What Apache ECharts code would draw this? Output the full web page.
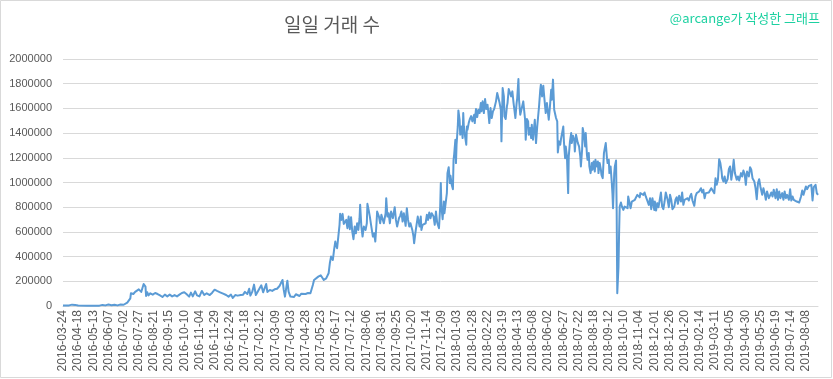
<!DOCTYPE html>
<html>
<head>
<meta charset="utf-8">
<script src="https://cdn.jsdelivr.net/npm/echarts@6/dist/echarts.min.js"></script>
<style>
html,body{margin:0;padding:0;background:#fff;}
#chart{width:833px;height:379px;}
</style>
</head>
<body>
<div id="chart"></div>
<script>
// ---- data ----
const titleText = '일일 거래 수';
const creditText = '@arcange가 작성한 그래프';
const startDate = '2016-03-24';
const endDate = '2019-08-28';
const missingDates = ['2018-08-04','2018-08-05','2018-09-26','2018-09-27','2018-09-28','2018-11-20','2018-11-21'];
const yTicks = [0,200000,400000,600000,800000,1000000,1200000,1400000,1600000,1800000,2000000];

// [day index on the category axis, daily transactions]
const tx2016 = [
[0,4000],[10,5000],[15,11000],[20,9000],[25,4000],[40,3000],[60,3000],[65,9000],[70,5000],[75,12000],
[80,6000],[85,10000],[90,5000],[95,12000],[100,10000],[103,18000],[106,28000],[109,35000],[111,62000],
[112,103000],[114,108000],[116,97000],[119,114000],[122,119000],[125,135000],[127,140000],[129,114000],
[131,130000],[133,178000],[134,192000],[136,157000],[137,81000],[139,111000],[141,86000],[144,103000],
[148,92000],[152,105000],[156,97000],[160,86000],[164,73000],[168,92000],[172,78000],[176,92000],
[180,78000],[184,89000],[188,78000],[192,92000],[196,105000],[200,111000],[204,95000],[208,76000],
[211,108000],[214,78000],[218,119000],[221,86000],[225,78000],[229,122000],[233,89000],[237,103000],
[242,89000],[246,108000],[250,132000],[254,122000],[259,111000],[264,100000],[269,89000],[273,76000],
[277,92000],[280,65000],[284,89000],[288,84000]
];
const tx2017 = [
[293,89000],[297,92000],[300,114000],[302,130000],[304,97000],[307,140000],[309,84000],[312,114000],
[315,173000],[318,89000],[321,116000],[324,130000],[327,168000],[330,111000],[333,124000],[335,178000],
[337,114000],[341,130000],[345,122000],[349,135000],[353,140000],[357,162000],[359,178000],[362,211000],
[364,130000],[366,76000],[368,143000],[370,205000],[372,116000],[375,76000],[378,92000],[381,73000],
[384,95000],[387,103000],[390,81000],[393,100000],[396,86000],[400,97000],[404,105000],[408,103000],
[410,119000],[412,170000],[414,211000],[417,216000],[421,238000],[425,249000],[428,251000],[430,211000],
[434,224000],[436,211000],[438,265000],[440,346000],[442,400000],[445,373000],[447,454000],[449,522000],
[450,495000],[452,468000],[454,562000],[456,657000],[457,746000],[459,697000],[461,746000],[463,665000],
[465,649000],[467,697000],[469,630000],[471,724000],[473,622000],[475,719000],[477,603000],[479,541000],
[481,643000],[483,589000],[485,670000],[487,616000],[489,711000],[490,819000],[492,643000],[494,562000],
[496,643000],[499,616000],[501,670000],[502,827000],[504,778000],[506,724000],[508,657000],[511,562000],
[513,589000],[515,522000],[517,670000],[518,765000],[521,724000],[523,670000],[525,738000],[527,724000],
[529,670000],[532,751000],[533,873000],[535,724000],[537,751000],[539,670000],[541,765000],[544,711000],
[546,697000],[547,800000],[549,697000],[551,643000],[554,711000],[556,730000],[558,765000],[560,684000],
[562,751000],[565,649000],[567,792000],[569,697000],[571,643000],[573,670000],[576,616000],[578,562000],
[579,508000],[581,589000],[583,657000],[585,724000],[588,643000],[590,724000],[591,616000],[593,657000],
[595,643000],[598,670000],[600,738000],[602,697000],[604,757000],[606,711000],[608,751000],[611,724000],
[613,657000],[615,765000],[617,676000],[620,630000],[622,805000],[623,995000],[624,805000],[626,703000],
[628,846000],[629,751000],[631,833000],[633,914000],[634,1076000],[636,1124000],[638,995000],[639,1054000],
[641,981000],[643,946000],[644,1184000],[645,1224000],[647,1346000],[648,1157000],[649,1306000]
];
const tx2018 = [
[651,1454000],[652,1584000],[654,1508000],[655,1387000],[657,1454000],[659,1360000],[660,1562000],
[661,1454000],[663,1373000],[665,1306000],[666,1454000],[667,1427000],[669,1481000],[671,1515000],
[673,1538000],[675,1495000],[678,1549000],[679,1481000],[681,1595000],[683,1530000],[685,1589000],
[687,1562000],[689,1643000],[690,1576000],[692,1657000],[694,1562000],[696,1676000],[698,1595000],
[700,1630000],[701,1589000],[703,1481000],[705,1603000],[707,1522000],[709,1576000],[711,1595000],
[712,1616000],[714,1657000],[716,1724000],[718,1730000],[720,1643000],[722,1589000],[723,1333000],
[725,1765000],[727,1697000],[728,1535000],[730,1514000],[732,1616000],[733,1643000],[735,1757000],
[737,1765000],[739,1697000],[741,1738000],[743,1643000],[744,1603000],[746,1522000],[748,1643000],
[749,1684000],[751,1838000],[752,1670000],[754,1549000],[756,1549000],[757,1541000],[759,1657000],
[761,1643000],[762,1508000],[763,1346000],[765,1514000],[767,1495000],[768,1387000],[770,1441000],
[772,1360000],[773,1468000],[775,1346000],[777,1454000],[778,1508000],[780,1319000],[782,1454000],
[783,1508000],[785,1616000],[787,1751000],[788,1792000],[790,1697000],[792,1784000],[793,1724000],
[795,1616000],[796,1562000],[798,1643000],[800,1630000],[801,1508000],[803,1616000],[805,1751000],
[806,1670000],[808,1833000],[810,1589000],[811,1576000],[813,1522000],[815,1495000],[816,1243000],
[818,1333000],[820,1306000],[821,1346000],[823,1400000],[825,1454000],[826,1333000],[828,1197000],
[829,1292000],[831,1211000],[833,914000],[834,1211000],[836,1333000],[838,1400000],[839,1319000],
[841,1379000],[843,1346000],[844,1252000],[846,1387000],[848,1400000],[849,1319000],[851,1292000],
[853,1211000],[854,1130000],[856,1265000],[857,1441000],[859,1387000],[861,1292000],[862,1400000],
[864,1224000],[865,1184000],[867,1238000],[868,1130000],[870,1076000],[872,1157000],[873,1103000],
[875,1170000],[877,1089000],[878,1184000],[880,1130000],[882,1170000],[883,1076000],[885,1157000],
[887,1103000],[888,1062000],[890,1035000],[892,1238000],[893,1265000],[895,1319000],[897,1197000],
[898,1157000],[900,1184000],[901,1076000],[903,1130000],[905,995000],[906,914000],[907,792000],
[909,1076000],[910,1130000],[912,1178000],[913,778000],[914,103000],[915,89000],[916,319000],
[917,589000],[918,805000],[920,838000],[922,800000],[924,778000],[926,805000],[928,819000],[931,792000],
[932,886000],[934,881000],[936,792000],[938,846000],[940,833000],[943,860000],[945,873000],[947,900000],
[949,905000],[951,880000]
];
const tx2019 = [
[952,914000],[954,927000],[957,900000],[959,919000],[961,887000],[964,846000],[966,819000],[968,873000],
[970,784000],[972,873000],[975,778000],[976,846000],[978,773000],[980,833000],[982,800000],[984,860000],
[986,919000],[988,805000],[990,784000],[992,846000],[994,919000],[997,860000],[999,800000],[1001,900000],
[1003,860000],[1005,784000],[1008,805000],[1010,860000],[1012,881000],[1014,827000],[1016,892000],
[1019,846000],[1021,919000],[1023,819000],[1025,860000],[1027,846000],[1030,873000],[1032,854000],
[1034,887000],[1036,908000],[1038,854000],[1041,811000],[1043,887000],[1045,914000],[1047,900000],
[1049,927000],[1052,954000],[1054,919000],[1056,941000],[1058,873000],[1060,914000],[1063,900000],
[1065,919000],[1067,914000],[1069,954000],[1071,968000],[1074,914000],[1076,1035000],[1078,981000],
[1080,1022000],[1082,1189000],[1084,1157000],[1086,1089000],[1087,1035000],[1089,1008000],[1091,1049000],
[1093,995000],[1096,1027000],[1098,1108000],[1100,1130000],[1102,1022000],[1104,1089000],[1106,1184000],
[1108,1076000],[1111,1022000],[1113,1049000],[1115,1016000],[1118,1076000],[1120,1049000],[1122,1097000],
[1124,1070000],[1126,981000],[1128,1089000],[1131,1049000],[1133,1124000],[1135,1103000],[1137,1035000],
[1140,1008000],[1142,954000],[1144,865000],[1146,995000],[1148,1027000],[1150,968000],[1153,900000],
[1155,954000],[1157,914000],[1159,860000],[1161,927000],[1164,873000],[1166,860000],[1168,919000],
[1170,887000],[1172,941000],[1175,873000],[1177,946000],[1179,860000],[1181,927000],[1183,873000],
[1186,914000],[1188,860000],[1190,927000],[1192,873000],[1194,900000],[1197,860000],[1199,946000],
[1201,854000],[1203,887000],[1205,860000],[1208,873000],[1210,846000],[1212,860000],[1214,838000],
[1217,887000],[1219,935000],[1221,900000],[1223,914000],[1225,968000],[1227,946000],[1230,973000],
[1232,962000],[1234,981000],[1236,854000],[1238,962000],[1241,981000],[1243,914000],[1245,900000]
];

// ---- build category list (daily, with the gaps present in the source) ----
function buildDates(from, to, skip) {
  const out = [];
  const d = new Date(from + 'T00:00:00Z');
  const end = new Date(to + 'T00:00:00Z');
  while (d <= end) {
    const s = d.toISOString().slice(0, 10);
    if (skip.indexOf(s) < 0) out.push(s);
    d.setUTCDate(d.getUTCDate() + 1);
  }
  return out;
}
const categories = buildDates(startDate, endDate, missingDates);
const seriesData = tx2016.concat(tx2017, tx2018, tx2019);

const chart = echarts.init(document.getElementById('chart'), null, {renderer: 'canvas'});
chart.setOption({
  animation: false,
  backgroundColor: '#ffffff',
  grid: {left: 63, right: 15, top: 59, bottom: 73, containLabel: false},
  xAxis: {
    type: 'category',
    data: categories,
    boundaryGap: false,
    axisLine: {show: true, lineStyle: {color: '#d9d9d9', width: 1}},
    axisTick: {show: false},
    splitLine: {show: false},
    axisLabel: {
      interval: 24,
      rotate: 90,
      margin: 4,
      color: '#595959',
      fontSize: 12,
      fontFamily: 'Liberation Sans, Arial, sans-serif',
      hideOverlap: false
    }
  },
  yAxis: {
    type: 'value',
    min: yTicks[0],
    max: yTicks[yTicks.length - 1],
    interval: yTicks[1] - yTicks[0],
    axisLine: {show: false},
    axisTick: {show: false},
    splitLine: {lineStyle: {color: '#d9d9d9', width: 1}},
    axisLabel: {
      margin: 11,
      color: '#595959',
      fontSize: 11,
      fontFamily: 'Liberation Sans, Arial, sans-serif',
      formatter: v => String(v)
    }
  },
  series: [{
    type: 'line',
    data: seriesData,
    showSymbol: false,
    symbol: 'none',
    smooth: false,
    lineStyle: {color: '#5b9bd5', width: 2, join: 'round'},
    itemStyle: {color: '#5b9bd5'}
  }],
  graphic: [
    {type: 'rect', shape: {x: 0.5, y: 0.5, width: 831, height: 377}, style: {fill: 'none', stroke: '#d9d9d9', lineWidth: 1}, silent: true},
    {type: 'text', x: 332, y: 25, style: {text: titleText, fill: '#595959', font: '19px "Noto Sans CJK KR", sans-serif', textAlign: 'center', textVerticalAlign: 'middle', align: 'center', verticalAlign: 'middle'}},
    {type: 'text', x: 820, y: 18, style: {text: creditText, fill: '#1dd1a1', font: '13px "Noto Sans CJK KR", sans-serif', textAlign: 'right', textVerticalAlign: 'middle', align: 'right', verticalAlign: 'middle'}}
  ]
});
</script>
</body>
</html>
